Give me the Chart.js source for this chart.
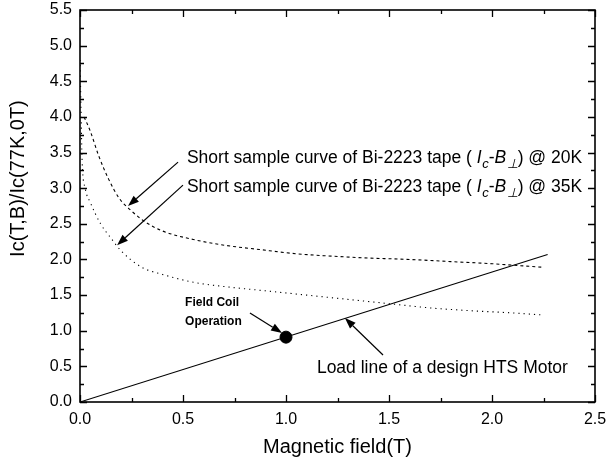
<!DOCTYPE html>
<html>
<head>
<meta charset="utf-8">
<script src="https://cdn.jsdelivr.net/npm/chart.js@4/dist/chart.umd.min.js"></script>
<style>
html,body{margin:0;padding:0;background:#fff;}
#wrap{width:608px;height:464px;}
</style>
</head>
<body>
<div id="wrap"><canvas id="c" width="608" height="464"></canvas></div>
<script>
// ---- data ----
const field20K = [0.02, 0.05, 0.09, 0.14, 0.19, 0.25, 0.32, 0.40, 0.55, 0.70, 0.87, 1.05, 1.20, 1.40, 1.60, 1.80, 2.00, 2.10, 2.25];
const ic20K    = [4.00, 3.80, 3.46, 3.12, 2.86, 2.68, 2.52, 2.40, 2.28, 2.20, 2.14, 2.08, 2.05, 2.02, 2.00, 1.97, 1.94, 1.92, 1.89];
const field35K = [0.00, 0.005, 0.01, 0.025, 0.05, 0.10, 0.15, 0.20, 0.30, 0.40, 0.55, 0.70, 0.90, 1.10, 1.30, 1.50, 1.70, 1.90, 2.10, 2.25];
const ic35K    = [4.80, 4.10, 3.40, 3.00, 2.80, 2.50, 2.30, 2.12, 1.89, 1.79, 1.68, 1.62, 1.56, 1.50, 1.44, 1.38, 1.32, 1.28, 1.25, 1.22];
const loadField = [0.0, 2.27];
const loadIc    = [0.0, 2.07];
const opField = [1.0];
const opIc    = [0.91];
const xTicks = [0.0, 0.5, 1.0, 1.5, 2.0, 2.5];
const yTicks = [0.0, 0.5, 1.0, 1.5, 2.0, 2.5, 3.0, 3.5, 4.0, 4.5, 5.0, 5.5];
const xTitle = 'Magnetic field(T)';
const yTitle = 'Ic(T,B)/Ic(77K,0T)';
// annotation text pieces: [text, style] style: n normal, i italic, s subscript
const label20K = [['Short sample curve of Bi-2223 tape ( ', 'n'], ['I', 'i'], ['c', 's'], ['-', 'n'], ['B', 'i'], ['\u22A5', 's'], [') @ 20K', 'n']];
const label35K = [['Short sample curve of Bi-2223 tape ( ', 'n'], ['I', 'i'], ['c', 's'], ['-', 'n'], ['B', 'i'], ['\u22A5', 's'], [') @ 35K', 'n']];
const labelOp = ['Field Coil', 'Operation'];
const labelLoad = 'Load line of a design HTS Motor';
// annotation anchors in data units
const label20KAt = [0.519, 3.42];
const label35KAt = [0.519, 3.015];
const labelOpAt = [0.51, 1.39, 1.12];
const labelLoadAt = [1.15, 0.477];
const arrows = [
  [[0.476, 3.366], [0.233, 2.749]],
  [[0.500, 3.043], [0.180, 2.200]],
  [[0.825, 1.248], [0.981, 0.968]],
  [[1.471, 0.659], [1.286, 1.178]]
];

const toXY = (xs, ys) => xs.map((x, i) => ({x: x, y: ys[i]}));
const FONT = '"Liberation Sans", Arial, sans-serif';

const framePlugin = {
  id: 'frame',
  afterDatasetsDraw(chart) {
    const {ctx, chartArea: a, scales: {x, y}} = chart;
    ctx.save();
    ctx.strokeStyle = '#000';
    ctx.lineWidth = 1.6;
    ctx.strokeRect(a.left, a.top, a.right - a.left, a.bottom - a.top);
    ctx.lineWidth = 1.3;
    ctx.beginPath();
    for (let v = 0; v <= 2.5001; v += 0.25) {
      const px = Math.round(x.getPixelForValue(v)) + 0.5;
      const major = Math.abs(v / 0.5 - Math.round(v / 0.5)) < 1e-6;
      const L = major ? 7 : 4;
      ctx.moveTo(px, a.bottom); ctx.lineTo(px, a.bottom - L);
      ctx.moveTo(px, a.top); ctx.lineTo(px, a.top + L);
    }
    for (let v = 0; v <= 5.5001; v += 0.25) {
      const py = Math.round(y.getPixelForValue(v)) + 0.5;
      const major = Math.abs(v / 0.5 - Math.round(v / 0.5)) < 1e-6;
      const L = major ? 7 : 4;
      ctx.moveTo(a.left, py); ctx.lineTo(a.left + L, py);
      ctx.moveTo(a.right, py); ctx.lineTo(a.right - L, py);
    }
    ctx.stroke();

    // y axis title (drawn manually, slightly above centre as in the reference)
    ctx.save();
    ctx.translate(18, a.top + (a.bottom - a.top) * 0.43);
    ctx.rotate(-Math.PI / 2);
    ctx.font = '20px ' + FONT;
    ctx.fillStyle = '#000';
    ctx.textAlign = 'center';
    ctx.textBaseline = 'middle';
    ctx.fillText(yTitle, 0, 0);
    ctx.restore();

    // arrows
    ctx.fillStyle = '#000';
    ctx.lineWidth = 1.2;
    arrows.forEach(([from, to]) => {
      const x0 = x.getPixelForValue(from[0]), y0 = y.getPixelForValue(from[1]);
      const x1 = x.getPixelForValue(to[0]), y1 = y.getPixelForValue(to[1]);
      const ang = Math.atan2(y1 - y0, x1 - x0);
      const hl = 11, hw = 4;
      const bx = x1 - hl * Math.cos(ang), by = y1 - hl * Math.sin(ang);
      ctx.beginPath();
      ctx.moveTo(x0, y0); ctx.lineTo(bx, by); ctx.stroke();
      ctx.beginPath();
      ctx.moveTo(x1, y1);
      ctx.lineTo(bx + hw * Math.sin(ang), by - hw * Math.cos(ang));
      ctx.lineTo(bx - hw * Math.sin(ang), by + hw * Math.cos(ang));
      ctx.closePath(); ctx.fill();
    });

    // rich labels
    const drawRich = (pieces, at) => {
      let px = x.getPixelForValue(at[0]);
      const py = y.getPixelForValue(at[1]);
      ctx.textBaseline = 'middle';
      ctx.textAlign = 'left';
      pieces.forEach(([t, s]) => {
        if (s === 'n') ctx.font = '17.5px ' + FONT;
        else if (s === 'i') ctx.font = 'italic 17.5px ' + FONT;
        else ctx.font = 'italic 13px ' + FONT;
        const dy = s === 's' ? 6 : 0;
        ctx.fillText(t, px, py + dy);
        px += ctx.measureText(t).width + (s === 'i' ? 0.5 : 0);
      });
    };
    drawRich(label20K, label20KAt);
    drawRich(label35K, label35KAt);

    ctx.font = 'bold 12px ' + FONT;
    ctx.textBaseline = 'middle';
    ctx.fillText(labelOp[0], x.getPixelForValue(labelOpAt[0]), y.getPixelForValue(labelOpAt[1]));
    ctx.fillText(labelOp[1], x.getPixelForValue(labelOpAt[0]), y.getPixelForValue(labelOpAt[2]));

    ctx.font = '17.5px ' + FONT;
    ctx.fillText(labelLoad, x.getPixelForValue(labelLoadAt[0]), y.getPixelForValue(labelLoadAt[1]));
    ctx.restore();
  }
};

new Chart(document.getElementById('c'), {
  type: 'scatter',
  data: {
    datasets: [
      {label: '20K', data: toXY(field20K, ic20K), showLine: true, borderColor: '#000', borderWidth: 1.1,
       borderDash: [3, 3], pointRadius: 0, cubicInterpolationMode: 'monotone'},
      {label: '35K', data: toXY(field35K, ic35K), showLine: true, borderColor: '#000', borderWidth: 1.1,
       borderDash: [1.2, 4], pointRadius: 0, cubicInterpolationMode: 'monotone'},
      {label: 'Load line', data: toXY(loadField, loadIc), showLine: true, borderColor: '#000', borderWidth: 1.1,
       pointRadius: 0},
      {label: 'Operation', data: toXY(opField, opIc), showLine: false, pointRadius: 6,
       backgroundColor: '#000', borderColor: '#000', pointBorderWidth: 1}
    ]
  },
  options: {
    responsive: false,
    animation: false,
    devicePixelRatio: 1,
    layout: {padding: {left: 0, right: 13, top: 10, bottom: 0}},
    plugins: {legend: {display: false}, tooltip: {enabled: false}},
    scales: {
      x: {
        type: 'linear', min: 0, max: 2.5,
        afterFit(s) { s.height = 62; },
        afterBuildTicks(s) { s.ticks = xTicks.map(v => ({value: v})); },
        grid: {display: true, drawOnChartArea: false, drawTicks: true, tickLength: 8, tickColor: 'rgba(0,0,0,0)'},
        border: {display: false},
        ticks: {color: '#000', padding: 0, font: {family: FONT, size: 16}, maxRotation: 0,
                callback: v => Number(v).toFixed(1)},
        title: {display: true, text: xTitle, color: '#000', font: {family: FONT, size: 20},
                padding: {top: 0, bottom: 5}}
      },
      y: {
        type: 'linear', min: 0, max: 5.5,
        afterFit(s) { s.width = 80; },
        afterBuildTicks(s) { s.ticks = yTicks.map(v => ({value: v})); },
        grid: {display: true, drawOnChartArea: false, drawTicks: true, tickLength: 8, tickColor: 'rgba(0,0,0,0)'},
        border: {display: false},
        ticks: {color: '#000', padding: 0, font: {family: FONT, size: 16},
                callback: v => Number(v).toFixed(1)},
        title: {display: false, text: yTitle}
      }
    }
  },
  plugins: [framePlugin]
});
</script>
</body>
</html>
